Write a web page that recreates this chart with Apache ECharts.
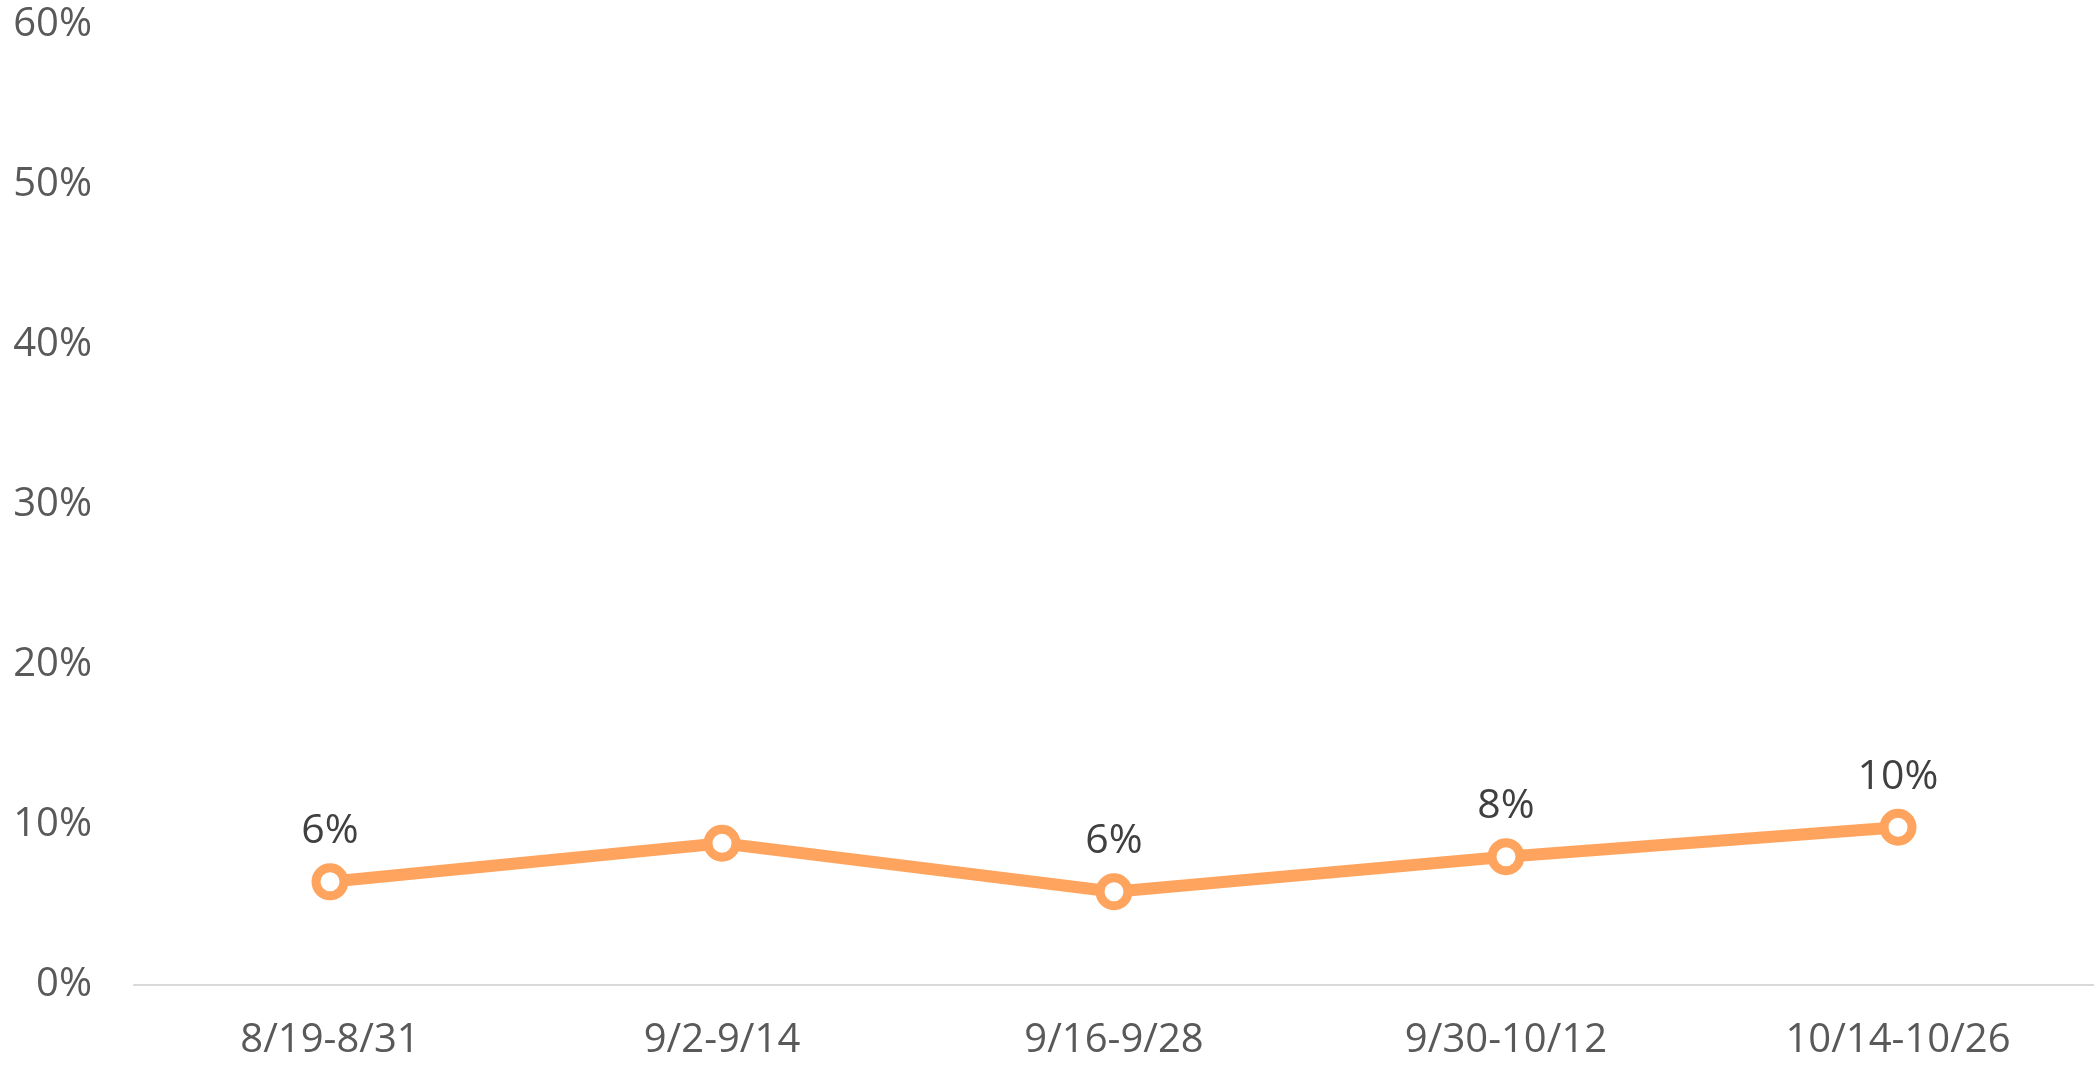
<!DOCTYPE html>
<html>
<head>
<meta charset="utf-8">
<script src="https://cdn.jsdelivr.net/npm/echarts@6/dist/echarts.min.js"></script>
<style>
  html, body { margin: 0; padding: 0; background: #fff; }
  #chart { width: 2094px; height: 1067px; }
</style>
</head>
<body>
<div id="chart"></div>
<script>
// 数据
const categories = ["8/19-8/31", "9/2-9/14", "9/16-9/28", "9/30-10/12", "10/14-10/26"];
const values = [6.45, 8.86, 5.83, 8.02, 9.86];
// 第二个点在原图中没有数据标签
const showLabel = [true, false, true, true, true];
const yTicks = [0, 10, 20, 30, 40, 50, 60];

const mChart = echarts.init(document.getElementById("chart"));

const options = {
  animation: false,
  textStyle: { fontFamily: "Open Sans" },
  grid: {
    top: 25,
    right: 0,
    bottom: 82,
    left: 134,
  },
  xAxis: {
    type: "category",
    data: categories,
    boundaryGap: true,
    axisLine: { lineStyle: { color: "#d9d9d9", width: 2 } },
    axisTick: { show: false },
    axisLabel: {
      color: "#595959",
      fontSize: 40,
      margin: 36,
    },
  },
  yAxis: {
    type: "value",
    min: yTicks[0],
    max: yTicks[yTicks.length - 1],
    interval: 10,
    splitLine: { show: false },
    axisLine: { show: false },
    axisTick: { show: false },
    axisLabel: {
      color: "#595959",
      fontSize: 40,
      margin: 42,
      formatter: "{value}%",
    },
  },
  series: [
    {
      type: "line",
      data: values.map((v, i) => ({
        value: v,
        label: { show: showLabel[i] },
      })),
      symbol: "circle",
      symbolSize: 28,
      lineStyle: { color: "#FFA45E", width: 12 },
      // 白色填充 + 粗橙色边框
      itemStyle: { color: "#fff", borderWidth: 9, borderColor: "#FFA45E" },
      label: {
        show: true,
        position: "top",
        distance: 11,
        color: "#404040",
        fontSize: 41,
        // 四舍五入为整数百分比
        formatter: (p) => Math.round(p.value) + "%",
      },
    },
  ],
};
mChart.setOption(options);
</script>
</body>
</html>
